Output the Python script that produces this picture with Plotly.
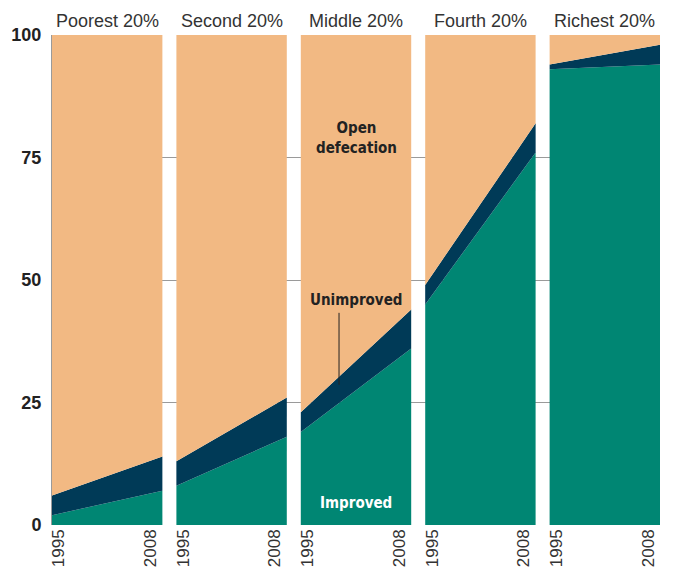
import plotly.graph_objects as go

quintiles = ["Poorest 20%", "Second 20%", "Middle 20%", "Fourth 20%", "Richest 20%"]
years = [1995, 2008]
improved = [[2, 7], [8, 18], [19, 36], [45, 76], [93, 94]]
unimproved = [[4, 7], [5, 8], [4, 8], [4, 6], [1, 4]]
open_defecation = [[94, 86], [87, 74], [77, 56], [51, 18], [6, 2]]
y_ticks = [0, 25, 50, 75, 100]

C_IMP = "#008673"
C_UNIMP = "#003A57"
C_OPEN = "#F2B983"

SPAN = years[1] - years[0]
GAP = 1.65
TOTAL = 5 * SPAN + 4 * GAP

fig = go.Figure()
tickvals, ticktext = [], []
for i, q in enumerate(quintiles):
    off = i * (SPAN + GAP)
    xs = [off + (y - years[0]) for y in years]
    for name, vals, col in [("Improved", improved[i], C_IMP),
                            ("Unimproved", unimproved[i], C_UNIMP),
                            ("Open defecation", open_defecation[i], C_OPEN)]:
        fig.add_trace(go.Scatter(x=xs, y=vals, stackgroup=f"g{i}", mode="none",
                                 fillcolor=col, name=name, showlegend=False,
                                 hoverinfo="skip"))
    tickvals += [xs[0] + 0.8, xs[1] - 1.4]
    ticktext += [str(years[0]), str(years[1])]
    fig.add_annotation(x=off + SPAN / 2, y=1, xref="x", yref="paper", yanchor="bottom",
                       text=q, showarrow=False, yshift=2,
                       font=dict(family="Liberation Sans, Arial, sans-serif", size=18, color="#333"))

mid_off = 2 * (SPAN + GAP)
lab_font = dict(family="Liberation Sans Narrow, DejaVu Sans Condensed, Arial Narrow, sans-serif",
                size=15, color="#222")
fig.add_annotation(x=mid_off + SPAN / 2, y=79, text="<b>Open<br>defecation</b>",
                   showarrow=False, font=lab_font)
fig.add_annotation(x=mid_off + SPAN / 2, y=46, text="<b>Unimproved</b>",
                   showarrow=False, font=lab_font)
fig.add_annotation(x=mid_off + SPAN / 2, y=4.5, text="<b>Improved</b>",
                   showarrow=False, font=dict(lab_font, color="white"))
fig.add_shape(type="line", x0=mid_off + 4.5, x1=mid_off + 4.5, y0=43.3, y1=28.6,
              line=dict(color="#222", width=1))

fig.update_layout(
    width=665, height=566,
    margin=dict(l=44, r=13, t=27, b=49),
    plot_bgcolor="white", paper_bgcolor="white",
    xaxis=dict(range=[0, TOTAL], tickvals=tickvals, ticktext=ticktext, tickangle=-90,
               showgrid=False, zeroline=False, showline=False, ticks="", automargin=False,
               tickfont=dict(family="Liberation Sans, Arial, sans-serif", size=17, color="#333")),
    yaxis=dict(range=[0, 100], tickvals=y_ticks, showgrid=True, gridcolor="#9a9a9a",
               gridwidth=1, zeroline=False, showline=True, linecolor="#9a9a9a",
               ticks="", ticklabelstandoff=6, automargin=False,
               tickfont=dict(family="Liberation Sans, Arial, sans-serif", size=18, color="#222",
                             weight="bold")),
)
fig.write_html("out.html")
